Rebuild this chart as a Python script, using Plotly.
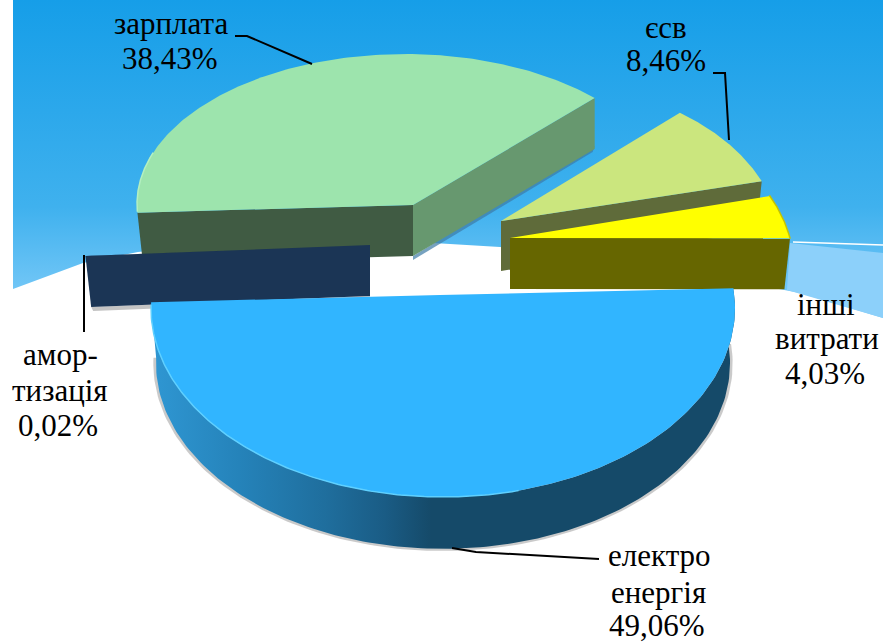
import numpy as np
import plotly.graph_objects as go

# ---- data ----
categories = ["зарплата", "єсв", "інші витрати", "електро енергія", "амортизація"]
shares = [38.43, 8.46, 4.03, 49.06, 0.02]

START_ANGLE = 183.3

# drawing geometry of each exploded slice (pixel-space axes)
slice_style = [
    dict(ax=413, ay=205, cx=405, cy=204, rx=268, ry=150, shift=0, stretch=1, depth=51, top="#9DE4AD",
         wall="#405B43", wall2="#67986F", rim="#B4F0C0", rim_span=(183, 160)),
    dict(ax=501, ay=221, cx=508, cy=236, rx=270, ry=160, shift=5.5, stretch=1, depth=50, top="#CBE67E",
         wall="#5F6B3A", wall2=None, rim=None, rim_span=None),
    dict(ax=510, ay=238, cx=513.6, cy=266, rx=280, ry=174, shift=9.2, stretch=1, depth=51, top="#FFFF00",
         wall="#666600", wall2=None, rim="#C4C400", rim_span=(24, 9)),
    dict(ax=440, ay=295, cx=443, cy=308, rx=292, ry=189, shift=6, stretch=1.063, depth=55, top="#31B5FF",
         wall=None, wall2=None, rim="#5FD0FF", rim_span=(-181, -75)),
    dict(ax=370, ay=245, cx=370, cy=245, rx=285, ry=190, shift=0, stretch=1, depth=51, top="#1B3555",
         wall="#1B3555", wall2=None, rim=None, rim_span=None),
]
draw_order = [0, 1, 2, 4, 3]

label_pos = [
    [(171, 23, "зарплата"), (170, 58, None)],
    [(666, 27, "єсв"), (666, 60, None)],
    [(826, 304, "інші"), (827, 338, "витрати"), (825, 373, None)],
    [(659, 555, "електро"), (658, 592, "енергія"), (657, 625, None)],
    [(60, 354, "амор-"), (60, 390, "тизація"), (58, 425, None)],
]
leaders = [
    ([235, 247, 312], [36, 36, 64]),
    ([713, 725, 729], [73, 73, 140]),
    ([84, 84], [255, 332]),
    ([452, 476, 599], [548, 552, 559]),
]

bg_x = [13, 883, 883, 800, 650, 500, 350, 220, 138, 83, 13, 13]
bg_y = [0, 0, 318, 293, 264, 247, 238, 243, 252, 263, 289, 0]
band_x = [790, 883, 883, 787]
band_y = [243, 253, 318, 290]
band_line_x = [793, 883]
band_line_y = [242, 245]

fig = go.Figure()


def poly(x, y, color=None, opacity=1.0, gradient=None):
    kw = dict(fillgradient=gradient) if gradient else dict(fillcolor=color)
    fig.add_trace(go.Scatter(x=list(x), y=list(y), mode="lines", fill="toself", line=dict(width=0),
                             opacity=opacity, hoverinfo="skip", showlegend=False, **kw))


def stroke(x, y, color, width):
    fig.add_trace(go.Scatter(x=list(x), y=list(y), mode="lines", line=dict(color=color, width=width),
                             hoverinfo="skip", showlegend=False))


def arc(s, a0, a1, scale=1.0, dy=0.0):
    t = np.radians(np.linspace(a0, a1, 160))
    return s["cx"] + s["rx"] * scale * np.cos(t), s["cy"] + dy - s["ry"] * scale * np.sin(t)


# background
poly(bg_x, bg_y, gradient=dict(type="vertical", colorscale=[
    [0, "#7CCBF7"], [0.1, "#6FC5F6"], [0.35, "#3FB1EE"], [0.65, "#2CA8EB"], [1, "#169EE8"]]))
poly(band_x, band_y, "#8CD0FA")
stroke(band_line_x, band_line_y, "#FFFFFF", 1.5)

# slices: angular extents come from the shares
spans = [v / 100 * 360 for v in shares]
ends = START_ANGLE - np.cumsum(spans)
starts = ends + np.array(spans)

for i in draw_order:
    s = slice_style[i]
    a0 = starts[i] + s["shift"]
    a1 = a0 - spans[i] * s["stretch"]
    if i == 3:  # the large front slice: curved outer wall
        tx, ty = arc(s, a0, a1)
        bx, by = arc(s, a0, a1, 0.983, s["depth"])
        sx, sy = arc(s, a0, a1, 0.992, s["depth"] + 0.5)
        poly(sx, sy, "#8A8A8A", 0.45)
        poly(np.r_[tx, bx[::-1]], np.r_[ty, by[::-1]], gradient=dict(
            type="horizontal",
            colorscale=[[0, "#2F97D3"], [0.15, "#2583BA"], [0.3, "#1F6E9D"], [0.4, "#1A5C85"], [0.48, "#154A69"], [1, "#154A69"]]))
    else:
        ox, oy = arc(s, a0, a1)

        def bottom(px, py, k=0.98):
            return s["ax"] + (px - s["ax"]) * k, py + s["depth"]
        if s["wall2"]:  # wall along the clockwise end of the slice
            ex, ey = bottom(ox[-1], oy[-1], 1.0)
            poly([ex, ex - 2, s["ax"], s["ax"]], [ey - 3, ey + 3, s["ay"] + s["depth"] + 4, s["ay"] + s["depth"]], "#3D7BA5", 0.7)
            poly([s["ax"], ox[-1], ex, s["ax"]], [s["ay"], oy[-1], ey, s["ay"] + s["depth"]], s["wall2"])
            fx, fy = bottom(ox[0], oy[0])
            poly([s["ax"], ox[0], fx, s["ax"]], [s["ay"], oy[0], fy, s["ay"] + s["depth"]], s["wall"])
        else:
            fx, fy = bottom(ox[-1], oy[-1])
            if i == 4:  # soft shadow below the thin slice
                poly([s["ax"], fx, fx + 2, s["ax"]],
                     [s["ay"] + s["depth"], fy, fy + 4, s["ay"] + s["depth"] + 4], "#8A8A8A", 0.5)
            poly([s["ax"], ox[-1], fx, s["ax"]], [s["ay"], oy[-1], fy, s["ay"] + s["depth"]], s["wall"])
        tx, ty = ox, oy
    poly(np.r_[tx, s["ax"]], np.r_[ty, s["ay"]], s["top"])
    if s["rim"]:
        rx_, ry_ = arc(s, *s["rim_span"])
        stroke(rx_, ry_, s["rim"], 1.5)

for lx, ly in leaders:
    stroke(lx, ly, "#000000", 2)

# labels: one annotation per text line, percentages formatted from the values
annotations = []
for value, lines in zip(shares, label_pos):
    pct = f"{value:.2f}".replace(".", ",") + "%"
    for x, y, txt in lines:
        annotations.append(dict(x=x, y=y, text=txt if txt else pct, showarrow=False, xanchor="center",
                                yanchor="middle", font=dict(family="Liberation Serif", size=31, color="#000000")))

fig.update_layout(
    width=883, height=643, margin=dict(l=0, r=0, t=0, b=0), autosize=False,
    paper_bgcolor="#FFFFFF", plot_bgcolor="#FFFFFF", showlegend=False, annotations=annotations,
    xaxis=dict(range=[0, 883], visible=False, fixedrange=True),
    yaxis=dict(range=[643, 0], visible=False, fixedrange=True),
)
fig.write_html("out.html", config=dict(displayModeBar=False),
               post_script="document.body.style.margin='0';document.documentElement.style.overflow='hidden';")
